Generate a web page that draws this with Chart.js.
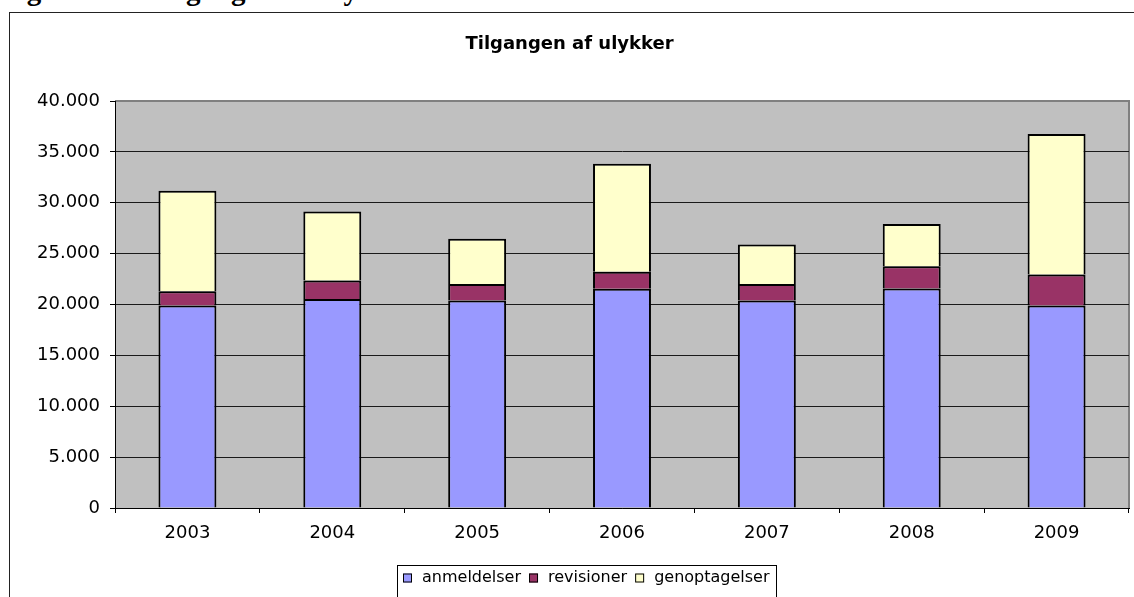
<!DOCTYPE html>
<html>
<head>
<meta charset="utf-8">
<script src="https://cdn.jsdelivr.net/npm/chart.js@4.4.0/dist/chart.umd.min.js"></script>
<style>
  body { margin: 0; background: #fff; overflow: hidden; width: 1134px; height: 597px; position: relative; }
  .head { position: absolute; top: -24px; font: bold 29px "Liberation Serif", serif; line-height: 29px; white-space: nowrap; color: #000; }
  .box { position: absolute; left: 9px; top: 12px; width: 1160px; height: 620px; border: 1px solid #222; }
  #chart { position: absolute; left: 0; top: 0; }
</style>
</head>
<body>
<div class="head" style="left:1px">Figur 1.1</div>
<div class="head" style="left:151px; word-spacing:3px">Tilgangen af ulykker</div>
<div class="box"><canvas id="chart" width="1124" height="584"></canvas></div>
<script>
const years = ['2003', '2004', '2005', '2006', '2007', '2008', '2009'];
const anmeldelser = [19900, 20550, 20400, 21550, 20400, 21580, 19900];
const revisioner = [1400, 1800, 1620, 1660, 1620, 2190, 3060];
const genoptagelser = [9870, 6780, 4440, 10620, 3880, 4140, 13790];
const yTicks = [0, 5000, 10000, 15000, 20000, 25000, 30000, 35000, 40000];

const fmt = v => String(v).replace(/\B(?=(\d{3})+(?!\d))/g, '.');

// grey plot area + grey top/right frame
const plotBg = {
  id: 'plotBg',
  beforeDraw(chart) {
    const {ctx, chartArea: a} = chart;
    ctx.save();
    ctx.fillStyle = '#C0C0C0';
    ctx.fillRect(a.left, a.top, a.width, a.height);
    ctx.strokeStyle = '#808080';
    ctx.lineWidth = 2;
    ctx.beginPath();
    ctx.moveTo(a.left, a.top);
    ctx.lineTo(a.right, a.top);
    ctx.lineTo(a.right, a.bottom);
    ctx.stroke();
    ctx.restore();
  }
};

// excel style legend with a frame
const legendBox = {
  id: 'legendBox',
  afterDraw(chart) {
    const ctx = chart.ctx;
    const sets = chart.data.datasets;
    ctx.save();
    ctx.font = '16px "DejaVu Sans"';
    const box = 9, gapText = 10, gapItem = 8, pad = 6;
    const widths = sets.map(ds => ctx.measureText(ds.label).width);
    const total = pad * 2 + widths.reduce((s, w) => s + box + gapText + w, 0) + gapItem * (sets.length - 1);
    const left = 387, top = 552.5, cy = 565;
    ctx.strokeStyle = '#000';
    ctx.lineWidth = 1;
    ctx.strokeRect(left + 0.5, top, Math.round(total), 60);
    let x = left + pad;
    sets.forEach((ds, i) => {
      ctx.fillStyle = ds.backgroundColor;
      ctx.fillRect(x, cy - 4.5, box, box);
      ctx.strokeRect(x + 0.5, cy - 4, box - 1, box - 1);
      x += box + gapText;
      ctx.fillStyle = '#000';
      ctx.textBaseline = 'middle';
      ctx.fillText(ds.label, x, cy);
      x += widths[i] + gapItem;
    });
    ctx.restore();
  }
};

new Chart(document.querySelector('#chart'), {
  type: 'bar',
  data: {
    labels: years,
    datasets: [
      { label: 'anmeldelser', data: anmeldelser, backgroundColor: '#9999FF' },
      { label: 'revisioner', data: revisioner, backgroundColor: '#993366' },
      { label: 'genoptagelser', data: genoptagelser, backgroundColor: '#FFFFCC' }
    ]
  },
  options: {
    responsive: false,
    animation: false,
    layout: { padding: { left: 0, right: 5, top: 0, bottom: 49 } },
    datasets: {
      bar: { borderColor: '#000', borderWidth: 2, barPercentage: 0.4, categoryPercentage: 1 }
    },
    plugins: {
      legend: { display: false },
      tooltip: { enabled: false },
      title: {
        display: true,
        text: 'Tilgangen af ulykker',
        color: '#000',
        font: { family: 'DejaVu Sans', size: 18, weight: 'bold' },
        padding: { top: 21, bottom: 45.4 }
      }
    },
    scales: {
      x: {
        stacked: true,
        afterFit: s => { s.height = 40; },
        grid: { offset: true, drawOnChartArea: false, drawTicks: true, tickLength: 5, color: '#000' },
        border: { display: true, color: '#000', width: 1 },
        ticks: { color: '#000', padding: 10, font: { family: 'DejaVu Sans', size: 18 } }
      },
      y: {
        stacked: true,
        min: 0,
        max: 40000,
        afterFit: s => { s.width = 105; },
        afterBuildTicks: s => { s.ticks = yTicks.map(v => ({ value: v })); },
        grid: {
          color: c => (c.tick && c.tick.value === 40000 ? '#808080' : '#1a1a1a'),
          lineWidth: 1,
          tickColor: '#000',
          tickLength: 5
        },
        border: { display: true, color: '#000', width: 1 },
        ticks: { color: '#000', padding: 10, callback: v => fmt(v), font: { family: 'DejaVu Sans', size: 18 } }
      }
    }
  },
  plugins: [plotBg, legendBox]
});
</script>
</body>
</html>
